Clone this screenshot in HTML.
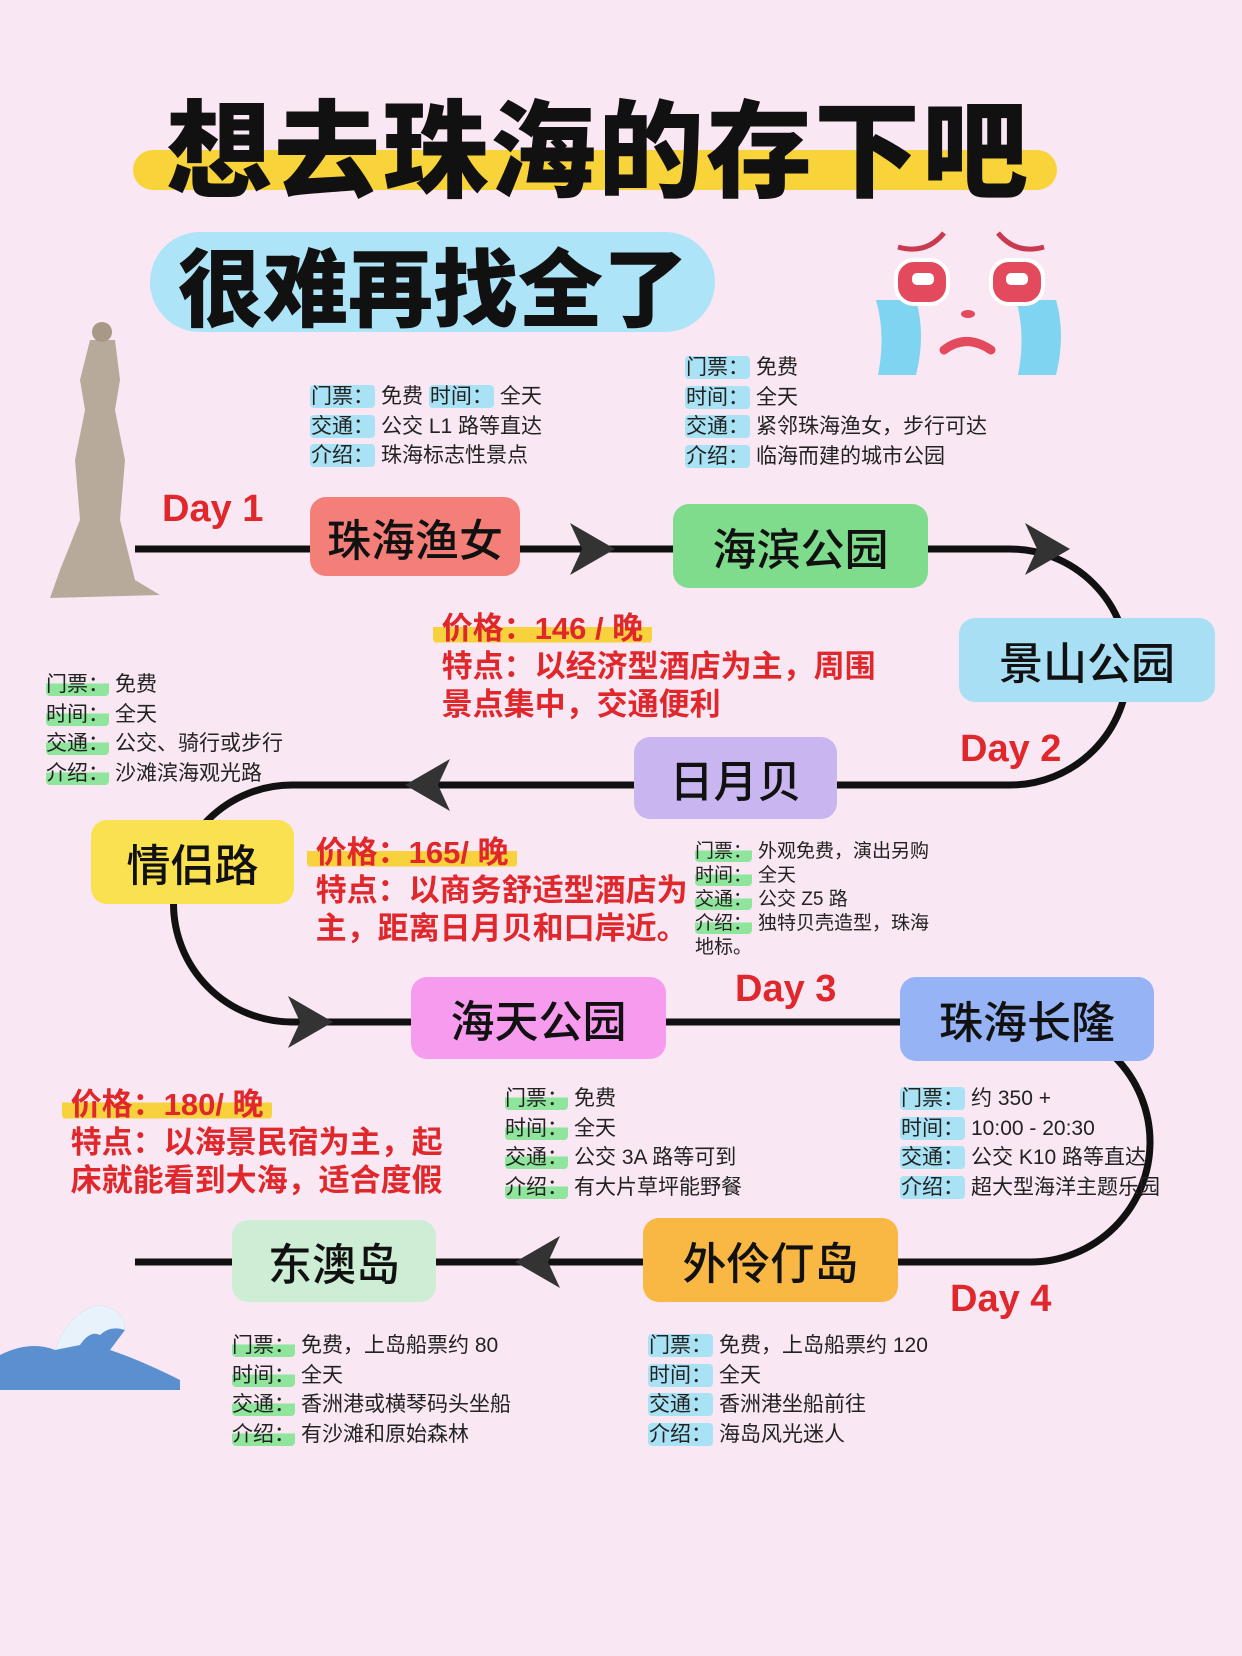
<!DOCTYPE html>
<html><head><meta charset="utf-8"><style>
body{margin:0;}
#p{position:relative;width:1242px;height:1656px;background:#f9e8f3;overflow:hidden;font-family:"Liberation Sans","Noto Sans CJK SC",sans-serif;}
.a{position:absolute;white-space:nowrap;}
.n{position:absolute;border-radius:16px;display:flex;align-items:center;justify-content:center;font-size:44px;color:#111;font-weight:500;}
.i{position:absolute;font-size:21px;line-height:29.5px;color:#222;white-space:nowrap;}
.b{background:#a9e2f4;border-radius:4px;padding:0 1px;margin-right:6px;}
.g{background:linear-gradient(180deg,transparent 45%,#8fe59c 45%);border-radius:4px;margin-right:6px;}
.r{position:absolute;color:#e0272c;font-size:31px;line-height:38px;font-weight:bold;white-space:nowrap;}
.y{background:linear-gradient(180deg,transparent 45%,#f8d23d 45%,#f8d23d 90%,transparent 90%);border-radius:8px;}
.d{position:absolute;color:#e0272c;font-size:38px;font-weight:bold;}
</style></head><body><div id="p">
<div class="a" style="left:133px;top:150px;width:924px;height:40px;background:#f9d33a;border-radius:20px;"></div>
<div class="a" style="left:166px;top:66px;font-size:106px;font-weight:900;color:#111;letter-spacing:2px;">想去珠海的存下吧</div>
<div class="a" style="left:150px;top:232px;width:565px;height:100px;background:#aee4f7;border-radius:50px;"></div>
<div class="a" style="left:178px;top:222px;font-size:85px;font-weight:900;color:#111;">很难再找全了</div>
<svg class="a" style="left:826px;top:205px" width="240" height="180">
<path d="M72 42 Q100 50 118 28" stroke="#c83a4f" stroke-width="5" fill="none"/>
<path d="M172 28 Q190 50 218 42" stroke="#c83a4f" stroke-width="5" fill="none"/>
<path d="M50 95 Q60 130 52 170 L90 170 Q100 130 90 95Z" fill="#7fd4f1"/>
<path d="M190 95 Q200 130 192 170 L230 170 Q240 130 230 95Z" fill="#7fd4f1"/>
<rect x="70" y="55" width="52" height="44" rx="18" fill="#e34a5e" stroke="#fff" stroke-width="4"/>
<rect x="165" y="55" width="52" height="44" rx="18" fill="#e34a5e" stroke="#fff" stroke-width="4"/>
<rect x="86" y="68" width="22" height="12" rx="5" fill="#fff"/>
<rect x="180" y="68" width="22" height="12" rx="5" fill="#fff"/>
<path d="M118 145 Q140 128 165 145" stroke="#e34a5e" stroke-width="9" fill="none" stroke-linecap="round"/>
<ellipse cx="142" cy="109" rx="7" ry="4" fill="#e34a5e"/>
</svg>
<svg class="a" style="left:40px;top:320px" width="125" height="285">
<path d="M50 20 L75 20 L80 60 L75 90 L85 140 L80 200 L95 260 L120 275 L10 278 L20 250 L40 200 L35 140 L45 90 L40 60Z" fill="#b8aa9b"/>
<circle cx="62" cy="12" r="10" fill="#a89886"/>
</svg>
<svg class="a" style="left:0;top:1300px" width="180" height="90">
<path d="M0 90 L0 55 Q30 40 55 50 Q70 10 100 5 Q125 10 125 30 L110 50 Q140 60 180 80 L180 90Z" fill="#5a8fd0"/>
<path d="M55 50 Q70 10 100 5 Q125 10 125 30 Q110 25 100 35 Q90 30 80 45Z" fill="#e8f2fa"/>
</svg>
<svg class="a" style="left:0;top:0" width="1242" height="1656">
<g fill="none" stroke="#111" stroke-width="7">
<path d="M135 549 L1010 549 A118 118 0 0 1 1010 785 L292 785 A118 118 0 0 0 292 1022 L1030 1022 A120 120 0 0 1 1030 1262 L135 1262"/>
</g>
<g fill="#333">
<path d="M570 523 L615 549 L570 575 L582 549Z"/>
<path d="M1025 523 L1070 549 L1025 575 L1037 549Z"/>
<path d="M450 759 L405 785 L450 811 L438 785Z"/>
<path d="M288 996 L333 1022 L288 1048 L300 1022Z"/>
<path d="M560 1236 L515 1262 L560 1288 L548 1262Z"/>
</g>
</svg>
<div class="n" style="left:310px;top:497px;width:210px;height:79px;background:#f47f78;">珠海渔女</div>
<div class="n" style="left:673px;top:504px;width:255px;height:84px;background:#7fdc8c;">海滨公园</div>
<div class="n" style="left:959px;top:618px;width:256px;height:84px;background:#a9dff5;">景山公园</div>
<div class="n" style="left:634px;top:737px;width:203px;height:82px;background:#c9b6f0;">日月贝</div>
<div class="n" style="left:91px;top:820px;width:203px;height:84px;background:#f9e14f;">情侣路</div>
<div class="n" style="left:411px;top:977px;width:255px;height:82px;background:#f79bef;">海天公园</div>
<div class="n" style="left:900px;top:977px;width:254px;height:84px;background:#95b3f5;">珠海长隆</div>
<div class="n" style="left:643px;top:1218px;width:255px;height:84px;background:#f9b743;">外伶仃岛</div>
<div class="n" style="left:232px;top:1220px;width:204px;height:82px;background:#cdeed5;">东澳岛</div>
<div class="d" style="left:162px;top:488px;">Day 1</div>
<div class="d" style="left:960px;top:728px;">Day 2</div>
<div class="d" style="left:735px;top:968px;">Day 3</div>
<div class="d" style="left:950px;top:1278px;">Day 4</div>
<div class="i" style="left:310px;top:382px;"><span class="b">门票：</span>免费 <span class="b">时间：</span>全天<br><span class="b">交通：</span>公交 L1 路等直达<br><span class="b">介绍：</span>珠海标志性景点</div>
<div class="i" style="left:685px;top:353px;"><span class="b">门票：</span>免费<br><span class="b">时间：</span>全天<br><span class="b">交通：</span>紧邻珠海渔女，步行可达<br><span class="b">介绍：</span>临海而建的城市公园</div>
<div class="i" style="left:46px;top:670px;"><span class="g">门票：</span>免费<br><span class="g">时间：</span>全天<br><span class="g">交通：</span>公交、骑行或步行<br><span class="g">介绍：</span>沙滩滨海观光路</div>
<div class="i" style="left:695px;top:840px;font-size:19px;line-height:24px;"><span class="g">门票：</span>外观免费，演出另购<br><span class="g">时间：</span>全天<br><span class="g">交通：</span>公交 Z5 路<br><span class="g">介绍：</span>独特贝壳造型，珠海<br>地标。</div>
<div class="i" style="left:505px;top:1084px;"><span class="g">门票：</span>免费<br><span class="g">时间：</span>全天<br><span class="g">交通：</span>公交 3A 路等可到<br><span class="g">介绍：</span>有大片草坪能野餐</div>
<div class="i" style="left:900px;top:1084px;"><span class="b">门票：</span>约 350 +<br><span class="b">时间：</span>10:00 - 20:30<br><span class="b">交通：</span>公交 K10 路等直达<br><span class="b">介绍：</span>超大型海洋主题乐园</div>
<div class="i" style="left:232px;top:1331px;"><span class="g">门票：</span>免费，上岛船票约 80<br><span class="g">时间：</span>全天<br><span class="g">交通：</span>香洲港或横琴码头坐船<br><span class="g">介绍：</span>有沙滩和原始森林</div>
<div class="i" style="left:648px;top:1331px;"><span class="b">门票：</span>免费，上岛船票约 120<br><span class="b">时间：</span>全天<br><span class="b">交通：</span>香洲港坐船前往<br><span class="b">介绍：</span>海岛风光迷人</div>
<div class="r" style="left:433px;top:610px;"><span class="y">&nbsp;价格：146 / 晚&nbsp;</span><br>&nbsp;特点：以经济型酒店为主，周围<br>&nbsp;景点集中，交通便利</div>
<div class="r" style="left:307px;top:834px;"><span class="y">&nbsp;价格：165/ 晚&nbsp;</span><br>&nbsp;特点：以商务舒适型酒店为<br>&nbsp;主，距离日月贝和口岸近。</div>
<div class="r" style="left:62px;top:1086px;"><span class="y">&nbsp;价格：180/ 晚&nbsp;</span><br>&nbsp;特点：以海景民宿为主，起<br>&nbsp;床就能看到大海，适合度假</div>
</div></body></html>
